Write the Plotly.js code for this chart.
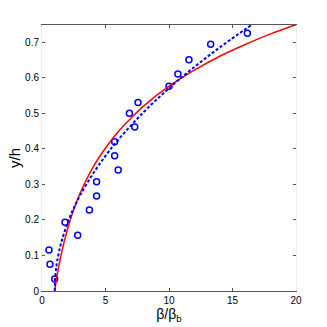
<!DOCTYPE html>
<html>
<head>
<meta charset="utf-8">
<script src="https://cdn.plot.ly/plotly-3.0.1.min.js"></script>
<style>
  html, body { margin: 0; padding: 0; background: #fff; }
  #graphDiv { width: 327px; height: 327px; }
</style>
</head>
<body>
<div id="graphDiv"></div>
<script>
// measured points
var ptsX = [0.55, 0.63, 1.0, 1.81, 2.81, 3.73, 4.3, 4.3, 5.72, 5.72, 6.0, 6.88, 7.3, 7.56, 10.0, 10.7, 11.57, 13.28, 16.17];
var ptsY = [0.115, 0.075, 0.034, 0.193, 0.157, 0.228, 0.307, 0.267, 0.38, 0.42, 0.34, 0.50, 0.461, 0.53, 0.576, 0.61, 0.65, 0.694, 0.725];

// red fit curve
var redX = [1, 1.1, 1.2, 1.5, 2, 2.5, 3, 4, 5, 6, 7, 8, 10, 12, 14, 16, 18, 20];
var redY = [0, 0.024, 0.046, 0.101, 0.173, 0.229, 0.275, 0.347, 0.402, 0.448, 0.486, 0.52, 0.576, 0.621, 0.66, 0.693, 0.723, 0.749];

// blue dashed fit curve
var blueX = [1, 1.02, 1.05, 1.1, 1.2, 1.5, 2, 2.5, 3, 4, 5, 6, 8, 10, 12, 14, 16, 17];
var blueY = [0, 0.027, 0.042, 0.06, 0.085, 0.134, 0.19, 0.233, 0.269, 0.329, 0.38, 0.425, 0.503, 0.57, 0.63, 0.685, 0.736, 0.76];

var xTicks = [0, 5, 10, 15, 20];
var yTicks = [0, 0.1, 0.2, 0.3, 0.4, 0.5, 0.6, 0.7];

var pts = {
    x: ptsX, y: ptsY,
    mode: 'markers',
    type: 'scatter',
    marker: {symbol: 'circle-open', size: 6, color: '#0000ff', line: {width: 1.5, color: '#0000ff'}},
    cliponaxis: false,
    hoverinfo: 'none'
};

var red = {
    x: redX, y: redY,
    mode: 'lines',
    type: 'scatter',
    line: {color: '#ff0000', width: 1.5, shape: 'spline'},
    hoverinfo: 'none'
};

var blue = {
    x: blueX, y: blueY,
    mode: 'lines',
    type: 'scatter',
    line: {color: '#0000ff', width: 2, dash: '3px,2px', shape: 'spline'},
    hoverinfo: 'none'
};

var data = [pts, red, blue];

var layout = {
    width: 327, height: 327,
    margin: {l: 42, r: 31, t: 25, b: 36},
    paper_bgcolor: '#fff',
    plot_bgcolor: '#fff',
    showlegend: false,
    font: {family: 'Liberation Sans, Arial, sans-serif', size: 10, color: '#000'},
    xaxis: {
        range: [0, 20],
        tickvals: xTicks,
        ticks: 'inside', ticklen: 3, tickcolor: '#555',
        showline: true, linecolor: '#555', linewidth: 1, mirror: 'ticks',
        showgrid: false, zeroline: false,
        tickfont: {size: 10},
        title: {text: 'β/β<sub>b</sub>', font: {size: 14}, standoff: 4}
    },
    yaxis: {
        range: [0, 0.748],
        tickvals: yTicks,
        ticks: 'inside', ticklen: 3, tickcolor: '#555',
        showline: true, linecolor: '#eeeeee', linewidth: 1, mirror: 'ticks',
        showgrid: false, zeroline: false,
        tickfont: {size: 10},
        title: {text: 'y/h', font: {size: 15}, standoff: 0}
    }
};

Plotly.newPlot('graphDiv', data, layout, {staticPlot: true});
</script>
</body>
</html>
